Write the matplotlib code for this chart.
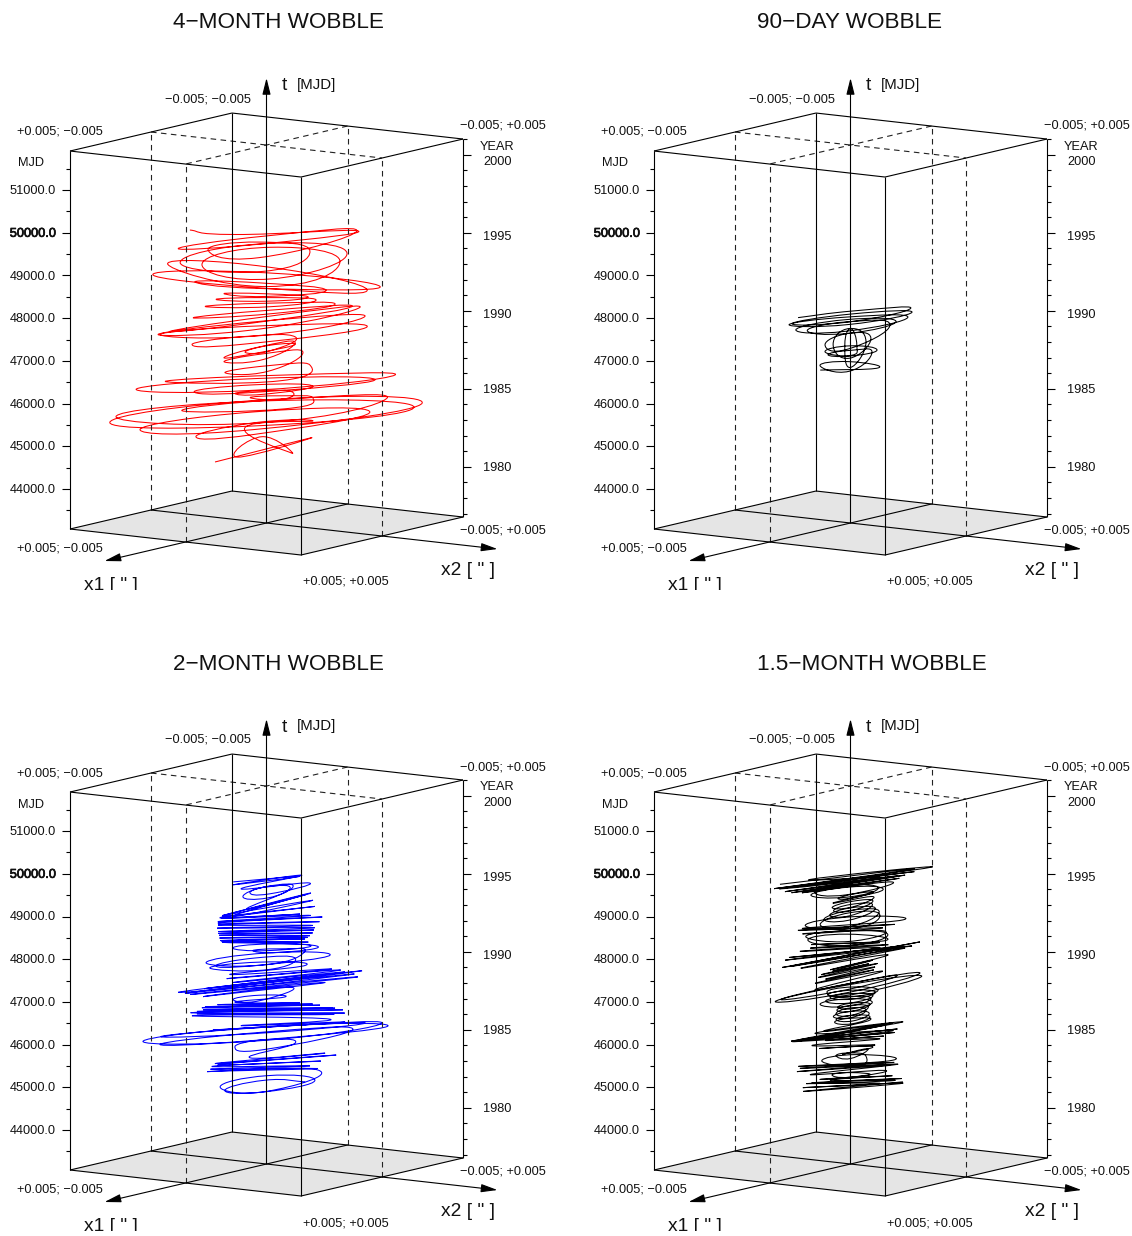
import matplotlib
matplotlib.use("Agg")
import matplotlib.pyplot as plt
import matplotlib.patheffects as pe
from matplotlib.path import Path
from matplotlib.patches import PathPatch, Polygon

plt.rcParams['font.family'] = ['Liberation Sans', 'DejaVu Sans']

W, H = 1132, 1236

# polar-motion components in milliarcseconds (0.001") and epoch in MJD
m4_x1 = [3.52, -2.69, 2.35, -1.69, .74, -2.77,
         -2.35, -.83, 2.83, 1.31,
         -3.67, -1.37, 4.13, 1.83,
         -4.89, -2.30, 4.91, 2.32,
         -3.84, -1.93, 3.90, 1.99,
         -3.57, -1.25, 2.85, .53,
         -.93, -.66, .33, .06,
         -.69, -.30, .81, .42,
         -1.46, -.45, 1.98, .97,
         -3.06, -.85, 3.50, 1.29,
         -3.19, -.80, 2.65, .26,
         -1.58, -.55, 1.54, .51,
         -1.62, -.47, 1.74, .59,
         -1.99, -.39, 2.27, .67,
         -1.28, -.60, 1.14, .46,
         -1.28, -.25, 2.20, 1.17,
         -2.72, -.83, 2.84, .95,
         -3.66, -.61, 3.86, .81,
         -4.10, -.42, 4.16, .48,
         -2.78, -.48, 2.54, .24,
         -1.64, -.43, 1.50, .29,
         -.99, -.35, 1.01, .37,
         -.56, -.27, .58, .27,
         -.48, -.41, .72, .65,
         -1.20, -1.42, 1.20, 1.42,
         .30, -1.80, -.34, 1.76,
         -1.74, -2.94, 1.56, 2.76,
         -2.50, -2.43, 2.62, 2.55,
         -.78, -1.27, 1.08, 1.57,
         -3.41, -.73, 3.37, .69,
         -2.01, 1.16, 1.35]
m4_x2 = [.24, .08, .41, -1.38, 1.63, -2.88,
         .36, -1.10, -1.07, .40,
         1.90, -1.47, -2.58, .79,
         3.31, -1.64, -3.34, 1.62,
         3.69, -1.42, -3.78, 1.34,
         2.72, -.10, -1.67, 1.16,
         1.36, .19, -.48, .69,
         .62, -.34, -.79, .16,
         .98, -.88, -1.74, .12,
         2.55, -1.07, -3.19, .43,
         3.33, .02, -2.53, .78,
         .77, -.35, -.72, .41,
         .44, -.47, -.62, .29,
         -.16, -.59, -.25, .17,
         .34, -.28, -.13, .48,
         .34, -1.17, -1.68, -.17,
         2.44, -.72, -2.62, .54,
         1.70, -.65, -1.99, .35,
         1.18, -.35, -1.27, .27,
         1.76, -.07, -1.40, .43,
         1.82, -.15, -1.61, .35,
         1.45, -.26, -1.48, .24,
         1.41, -.19, -1.44, .19,
         2.24, -.56, -2.59, .20,
         4.08, -1.00, -4.08, 1.00,
         4.57, -1.22, -4.52, 1.28,
         1.96, -1.87, -1.70, 2.13,
         1.73, -1.84, -1.90, 1.66,
         1.33, -1.22, -1.77, .78,
         1.52, -.47, -1.46, .53,
         2.55, -.54, -2.37]
m4_mjd = [44820, 44830, 44840, 44850, 44860, 44870,
          45265, 45270, 45275, 45280,
          45450, 45455, 45460, 45465,
          45640, 45645, 45650, 45655,
          45660, 45665, 45670, 45675,
          45840, 45845, 45850, 45855,
          45990, 45995, 46000, 46005,
          46110, 46115, 46120, 46125,
          46200, 46205, 46210, 46215,
          46300, 46305, 46310, 46315,
          46450, 46455, 46460, 46465,
          46670, 46675, 46680, 46685,
          46950, 46955, 46960, 46965,
          47110, 47115, 47120, 47125,
          47150, 47155, 47160, 47165,
          47330, 47335, 47340, 47345,
          47560, 47565, 47570, 47575,
          47690, 47695, 47700, 47705,
          47830, 47835, 47840, 47845,
          48000, 48005, 48010, 48015,
          48160, 48165, 48170, 48175,
          48290, 48295, 48300, 48305,
          48390, 48395, 48400, 48405,
          48610, 48615, 48620, 48625,
          48730, 48735, 48740, 48745,
          48820, 48825, 48830, 48835,
          49140, 49145, 49150, 49155,
          49270, 49275, 49280, 49285,
          49450, 49455, 49460, 49465,
          49690, 49695, 49700, 49705,
          49880, 49890, 49900]

d90_x1 = [1.14,
          -.37, -.86, .43, .92,
          -.70, -.52, .72, .54,
          -.71, -.90, .69, .88,
          -.66, -3.39, -.42, 3.57,
          -.67, -2.65, .53, 2.69,
          -1.03, -1.37, 1.13, 1.47,
          -1.32, -1.03, 1.40, 1.11,
          -1.71, -.98, 1.89, 1.16,
          -1.86, -.67, 1.94, .75,
          -2.30, -.74, 2.24, .68,
          -2.10, -.44, 1.94]
d90_x2 = [-.51,
          .94, -.67, -1.02, .59,
          .44, -.39, -.47, .37,
          .65, -.62, -.62, .64,
          -.19, -2.37, -.54, 2.49,
          .20, -1.91, -.38, 1.85,
          .16, -1.07, -.31, .93,
          .78, -.81, -.89, .69,
          .77, -.88, -1.04, .62,
          1.18, -.56, -1.30, .44,
          1.05, -.46, -.96, .54,
          1.14, -.13, -.91]
d90_mjd = [46715,
           46720, 46725, 46730, 46735,
           47030, 47035, 47040, 47045,
           47090, 47095, 47100, 47105,
           47160, 47165, 47170, 47175,
           47260, 47265, 47270, 47275,
           47310, 47315, 47320, 47325,
           47630, 47635, 47640, 47645,
           47680, 47685, 47690, 47695,
           47790, 47795, 47800, 47805,
           47860, 47865, 47870, 47875,
           47980, 47985, 47990]

m2_x1 = [-1.57, -1.04, 1.63, 1.10,
         -1.59, -1.44, 1.55, 1.40,
         -1.21, 1.37, -.96, 1.18, -2.19, 1.83, -1.62, .78,
         -.93, -.86, .99, .92,
         -3.15, -.51, 3.55, .91,
         -3.85, -1.23, 3.89, 1.27,
         -3.56, -.63, 3.36, .43,
         -1.93, .87,
         -1.00, 1.22, -1.71, 1.57, -1.55, 1.45, -1.25, 1.41, -.67, .63,
         -.64, -.38, .94, .68,
         -1.36, 2.16, -3.25, 3.19, -3.96, 3.68, -2.55, 1.67, -1.84, 1.26,
         -1.28, -.49, 1.72, .93,
         -1.98, -1.10, 1.92, 1.04,
         -.77, -.61, .27, .11,
         -.65, .71, -.95, 1.11, -.87, .95, -1.13, 1.15, -.93, .97, -1.56, 1.42, -1.03, 1.29,
         -2.94, 2.94, -2.13, 1.73,
         -1.31, -1.09, 1.27, 1.05,
         -.92, -.78, .78, .64,
         -1.60, 1.56, -1.20, 1.20,
         # further windings in the dense bands
         -1.40, 1.30, -1.55, 1.55, -1.30, 1.35, -1.00, 1.10,
         -1.10, 1.25, -1.50, 1.30,
         -.80, .85, -.90, 1.05, -1.00, 1.05, -1.05, 1.05, -1.20, 1.15, -1.30, 1.10, -1.85, 1.85, -2.30, 2.25,
         -2.20, 2.70, -3.00, 2.70, -2.30, 1.60,
         -2.80, 1.60,
         -1.00, -.60, 1.50, .70,
         -1.20, -.70, .80, .60,
         -1.50, 1.00]
m2_x2 = [.57, -.79, -.66, .71,
         .98, -.97, -.92, 1.03,
         1.38, -1.61, 1.21, -1.54, 1.48, -.95, 1.40, -.17,
         .59, -.67, -.67, .59,
         1.53, -.79, -2.12, .21,
         2.56, -.91, -2.62, .85,
         2.50, -.23, -2.21, .53,
         2.05, -.50,
         2.05, -2.37, 2.11, -1.91, 1.88, -1.73, 1.44, -1.67, .98, -.92,
         .35, -.60, -.79, .16,
         .06, -1.23, 1.68, -1.59, 1.36, -.95, 1.61, -.32, 1.54, -.69,
         .34, -.82, -.98, .18,
         1.36, -.71, -1.27, .79,
         1.13, .12, -.40, .62,
         1.35, -1.43, 1.00, -1.23, 1.27, -1.39, 1.26, -1.29, 1.36, -1.42, 1.32, -1.11, .73, -1.11,
         -.14, .14, .22, .37,
         .19, -.72, -.13, .78,
         .38, -.40, -.17, .60,
         .41, -.35, .60, -.60,
         # further windings in the dense bands
         1.95, -2.10, 2.30, -2.20, 1.95, -1.85, 1.30, -1.35,
         1.45, -1.55, 1.30, -1.20,
         1.25, -1.35, 1.15, -1.30, 1.30, -1.35, 1.35, -1.40, 1.45, -1.30, 1.00, -1.20, .80, -.60, .40, .10,
         1.00, -1.40, 1.70, -.80, 1.60, -.60,
         2.20, -1.20,
         1.00, -.70, -1.40, .50,
         1.40, -.30, -.90, .50,
         .80, -.40]
m2_mjd = [44880, 44885, 44890, 44895,
          44940, 44945, 44950, 44955,
          45240, 45250, 45350, 45360, 45510, 45520, 45600, 45610,
          45850, 45855, 45860, 45865,
          46040, 46045, 46050, 46055,
          46110, 46115, 46120, 46125,
          46200, 46205, 46210, 46215,
          46340, 46350,
          46490, 46500, 46650, 46660, 46690, 46700, 46760, 46770, 46840, 46850,
          46940, 46945, 46950, 46955,
          47090, 47100, 47260, 47270, 47320, 47330, 47430, 47440, 47560, 47570,
          47790, 47795, 47800, 47805,
          47860, 47865, 47870, 47875,
          48050, 48055, 48060, 48065,
          48220, 48230, 48310, 48320, 48410, 48420, 48520, 48530, 48650, 48660, 48790, 48800, 48870, 48880,
          49140, 49150, 49200, 49210,
          49420, 49425, 49430, 49435,
          49470, 49475, 49480, 49485,
          49710, 49720, 49730, 49740,
          # further windings in the dense bands
          46560, 46570, 46600, 46610, 46720, 46730, 46800, 46810,
          45290, 45300, 45420, 45430,
          48265, 48275, 48360, 48370, 48465, 48475, 48585, 48595, 48720, 48730, 48830, 48840, 48980, 48990, 49060, 49070,
          47180, 47190, 47350, 47360, 47500, 47510,
          46260, 46270,
          47690, 47695, 47700, 47705,
          48130, 48135, 48140, 48145,
          49560, 49570]

d45_x1 = [-1.94, 1.84, -1.50, 1.40, -.59, .77, -.89, .41,
          -.35, -.45, .37, .45,
          -1.66, 1.78, -1.15, 1.37,
          -.92, -1.20, .66, .94,
          -.31, -.53, .29, .53,
          -.88, .70, -.58, .86, -.77, .69, -1.20, 1.70,
          -1.12, .98, -2.65, 2.61, -2.10, 1.74,
          -.66, -.58, .56, .48,
          -.67, -.71, .65, .71,
          -.66, -.60, .52, .46,
          -.70, -.62, .88, .80,
          -.63, -.55, .59, .51,
          -.73, -.75, .65, .67,
          -3.74, -.67, 3.82, .75,
          -3.79, -.53, 3.79, .53,
          -2.23, 2.05,
          -1.47, 1.63, -1.34, 1.30,
          -2.24, 2.56, -3.70, 3.68, -2.30, 2.30, -.95, 1.37,
          -.71, -1.00, .85, 1.14,
          -.92, 1.32,
          -1.58, -1.14, 1.44, 1.00,
          -1.48, -1.25, 1.50, 1.25,
          -1.07, -.57, .99, .49,
          -.96, -.45, .78, .27,
          -1.00, -.81, 1.16, .97,
          -2.60, 2.82, -.77, .99, -3.59, 3.49, -2.71, 2.83,
          # further windings in the dense bands
          -1.60, 1.30, -1.30, .90, -1.10, 1.20, -1.20, 1.50,
          -.70, .80, -1.60, 2.10, -1.90, 2.30, -1.40, 1.20,
          -.60, -.50, .55, .50,
          -.72, -.60, .70, .55,
          -.60, -.65, .55, .60,
          -.70, -.55, .75, .65,
          -.75, -.60, .70, .60,
          -1.70, 1.90, -1.30, 1.40, -1.60, 1.60, -1.00, 1.10, -2.00, 2.20, -2.80, 2.90,
          -1.05, 1.20, -.80, 1.00,
          -.95, -.90, 1.05, 1.10,
          -1.00, 1.25, -1.30, 1.35,
          -1.20, -1.00, 1.20, 1.00,
          -1.10, -.80, 1.00, .75,
          -1.00, -.60, .90, .55,
          -1.10, .95,
          -1.30, -.90, 1.30, 1.00,
          -1.80, 2.00, -2.30, 2.50,
          -1.90, 2.10, -2.80, 3.00]
d45_x2 = [.91, -.76, 1.23, -1.08, .86, -1.13, 1.30, -.60,
          .51, -.31, -.54, .31,
          .89, -1.07, .91, -1.23,
          1.16, -.56, -.78, .94,
          .45, -.38, -.42, .38,
          .13, .13, .66, -1.07, .73, -.62, .60, -1.33,
          1.06, -.85, .41, -.35, .37, .16,
          .38, -.31, -.23, .45,
          .20, -.50, -.17, .50,
          .38, -.28, -.18, .48,
          .44, -.63, -.70, .37,
          .53, -.35, -.47, .41,
          .68, -.44, -.56, .56,
          .46, -.56, -.58, .44,
          .35, -.38, -.35, .38,
          .36, -.10,
          .03, -.26, .03, .03,
          .57, -1.04, .41, -.38, 1.05, -1.05, .61, -1.23,
          1.04, -.85, -1.25, .65,
          .76, -1.35,
          1.16, -.65, -.95, .85,
          .23, -.88, -.26, .88,
          .22, -.32, -.10, .44,
          .25, -.12, .01, .38,
          .50, -.75, -.73, .51,
          .54, -.86, .73, -1.06, 1.01, -.86, .89, -1.07,
          # further windings in the dense bands
          1.10, -1.00, .90, -.70, .70, -.90, 1.05, -1.20,
          .45, -.80, .80, -1.10, .70, -.80, .60, -.30,
          .40, -.40, -.30, .40,
          .30, -.45, -.25, .40,
          .35, -.35, -.20, .42,
          .40, -.50, -.55, .40,
          .55, -.40, -.50, .50,
          .20, -.20, .10, -.10, .05, -.15, .10, .00, .20, -.60, .40, -.60,
          .90, -.90, .70, -1.00,
          .95, -.70, -1.20, .70,
          .70, -1.20, 1.00, -1.15,
          .40, -.60, -.30, .60,
          .30, -.50, -.20, .50,
          .25, -.40, -.10, .45,
          .20, -.10,
          .50, -.70, -.80, .55,
          .50, -.70, .50, -.80,
          .70, -.90, .80, -.95]
d45_mjd = [44870, 44880, 44900, 44910, 44950, 44960, 45020, 45030,
           45140, 45145, 45150, 45155,
           45310, 45320, 45340, 45350,
           45480, 45485, 45490, 45495,
           45590, 45595, 45600, 45605,
           45690, 45700, 45840, 45850, 45970, 45980, 45990, 46000,
           46150, 46160, 46180, 46190, 46210, 46220,
           46470, 46475, 46480, 46485,
           46620, 46625, 46630, 46635,
           46760, 46765, 46770, 46775,
           46830, 46835, 46840, 46845,
           46980, 46985, 46990, 46995,
           47110, 47115, 47120, 47125,
           47160, 47165, 47170, 47175,
           47220, 47225, 47230, 47235,
           47310, 47320,
           47550, 47560, 47720, 47730,
           47990, 48000, 47960, 47970, 48030, 48040, 48080, 48090,
           48300, 48305, 48310, 48315,
           48560, 48570,
           48710, 48715, 48720, 48725,
           48780, 48785, 48790, 48795,
           49140, 49145, 49150, 49155,
           49340, 49345, 49350, 49355,
           49470, 49475, 49480, 49485,
           49630, 49640, 49740, 49750, 49760, 49770, 49790, 49800,
           # further windings in the dense bands
           44990, 45000, 45070, 45080, 45200, 45210, 45400, 45410,
           45780, 45790, 46050, 46060, 46100, 46110, 46250, 46260,
           46400, 46405, 46410, 46415,
           46550, 46555, 46560, 46565,
           46700, 46705, 46710, 46715,
           46900, 46905, 46910, 46915,
           47050, 47055, 47060, 47065,
           47440, 47450, 47500, 47510, 47620, 47630, 47670, 47680, 47800, 47810, 47900, 47910,
           48160, 48170, 48220, 48230,
           48400, 48405, 48410, 48415,
           48480, 48490, 48620, 48630,
           48880, 48885, 48890, 48895,
           48960, 48965, 48970, 48975,
           49060, 49065, 49070, 49075,
           49240, 49250,
           49420, 49425, 49430, 49435,
           49540, 49550, 49580, 49590,
           49680, 49690, 49710, 49720]

titles = ["4\u2212MONTH WOBBLE", "90\u2212DAY WOBBLE", "2\u2212MONTH WOBBLE", "1.5\u2212MONTH WOBBLE"]
series = [(m4_x1, m4_x2, m4_mjd), (d90_x1, d90_x2, d90_mjd), (m2_x1, m2_x2, m2_mjd), (d45_x1, d45_x2, d45_mjd)]
colors = ["#ff0000", "#000000", "#0000ff", "#000000"]
origins = [(0, 0), (584, 0), (0, 641), (584, 641)]

mjd_major = [44000, 45000, 46000, 47000, 48000, 49000, 50000, 51000]
mjd_minor = [43500, 44500, 45500, 46500, 47500, 48500, 49500, 50500, 51500]
year_major = [1980, 1985, 1990, 1995, 2000]
year_minor = [1977, 1978, 1979, 1981, 1982, 1983, 1984, 1986, 1987, 1988, 1989,
              1991, 1992, 1993, 1994, 1996, 1997, 1998, 1999, 2001]
year_label_shift = [0.5, 0, 3.5, 3, 6.5]

MJD_BOTTOM, MJD_TOP = 43063, 51915
LIM = 5.0  # mas = 0.005"


def proj(x1, x2, mjd):
    u, v = x1 / LIM, x2 / LIM
    return (266.5 - 81 * u + 115.5 * v,
            483 - (mjd - 44000) * 0.0427 + 19 * u + 13 * v)


def year_mjd(y):
    return 51544 + (y - 2000) * 365.25


def smooth_path(pts, k=0.27):
    verts = [pts[0]]
    codes = [Path.MOVETO]
    n = len(pts)
    for i in range(n - 1):
        p0 = pts[max(i - 1, 0)]
        p1 = pts[i]
        p2 = pts[i + 1]
        p3 = pts[min(i + 2, n - 1)]
        verts.append((p1[0] + k * (p2[0] - p0[0]), p1[1] + k * (p2[1] - p0[1])))
        verts.append((p2[0] - k * (p3[0] - p1[0]), p2[1] - k * (p3[1] - p1[1])))
        verts.append(p2)
        codes += [Path.CURVE4, Path.CURVE4, Path.CURVE4]
    return Path(verts, codes)


fig = plt.figure(figsize=(W / 100, H / 100), dpi=100, facecolor="white")
LW = 0.8
SMALL = 9.2

for (ox, oy), title, (sx1, sx2, smjd), col in zip(origins, titles, series, colors):
    ax = fig.add_axes([ox / W, 1 - (oy + 590) / H, 548 / W, 590 / H])
    ax.set_xlim(0, 548)
    ax.set_ylim(590, 0)
    ax.axis("off")

    def seg(a, b, **kw):
        kw.setdefault("color", "black")
        kw.setdefault("lw", LW)
        kw.setdefault("solid_capstyle", "butt")
        pa, pb = proj(*a), proj(*b)
        ax.plot([pa[0], pb[0]], [pa[1], pb[1]], **kw)

    B, T = MJD_BOTTOM, MJD_TOP
    ax.add_patch(Polygon([proj(LIM, -LIM, B), proj(-LIM, -LIM, B), proj(-LIM, LIM, B), proj(LIM, LIM, B)],
                         closed=True, fc="#e5e5e5", ec="none", zorder=0))

    order = sorted(range(len(smjd)), key=lambda i: smjd[i])
    pts = [proj(sx1[i], sx2[i], smjd[i]) for i in order]
    ax.add_patch(PathPatch(smooth_path(pts), fc="none", ec=col, lw=0.75, zorder=2))

    dash = dict(ls=(0, (5, 4)), lw=LW, zorder=3, color="#222222")
    for a, b in [(0, -LIM), (0, LIM), (LIM, 0), (-LIM, 0)]:
        seg((a, b, B), (a, b, T), **dash)
    seg((0, -LIM, T), (0, LIM, T), **dash)
    seg((-LIM, 0, T), (LIM, 0, T), **dash)

    corners = [(LIM, -LIM), (-LIM, -LIM), (-LIM, LIM), (LIM, LIM), (LIM, -LIM)]
    for c0, c1 in zip(corners[:-1], corners[1:]):
        seg((c0[0], c0[1], T), (c1[0], c1[1], T), zorder=4)
        seg((c0[0], c0[1], B), (c1[0], c1[1], B), zorder=4)
    for c in corners[:-1]:
        seg((c[0], c[1], B), (c[0], c[1], T), zorder=4)

    arrow = dict(arrowstyle="-|>,head_length=1.0,head_width=0.25", mutation_scale=10,
                 lw=LW, color="black", shrinkA=0, shrinkB=0)
    ax.annotate("", xy=proj(2 * LIM, 0, B), xytext=proj(-LIM, 0, B), arrowprops=arrow, zorder=5)
    ax.annotate("", xy=proj(0, 2 * LIM, B), xytext=proj(0, -LIM, B), arrowprops=arrow, zorder=5)
    ax.annotate("", xy=(266.5, 78), xytext=proj(0, 0, B), arrowprops=arrow, zorder=5)

    # left MJD axis
    for m in mjd_major:
        xp, yp = proj(LIM, -LIM, m)
        ax.plot([xp - 8, xp], [yp, yp], color="black", lw=LW, solid_capstyle="butt")
        t = ax.text(56, yp + 1, f"{m:.1f}", ha="right", va="center", fontsize=SMALL, color="#111111")
        if m == 50000:
            t.set_path_effects([pe.withStroke(linewidth=0.5, foreground="black")])
    for m in mjd_minor:
        xp, yp = proj(LIM, -LIM, m)
        ax.plot([xp - 4, xp], [yp, yp], color="black", lw=LW, solid_capstyle="butt")

    # right year axis
    for y, shift in zip(year_major, year_label_shift):
        xp, yp = proj(-LIM, LIM, year_mjd(y))
        ax.plot([xp, xp + 8], [yp, yp], color="black", lw=LW, solid_capstyle="butt")
        ax.text(483, yp + shift + 1, str(y), ha="left", va="center", fontsize=SMALL, color="#111111")
    for y in year_minor:
        xp, yp = proj(-LIM, LIM, year_mjd(y))
        ax.plot([xp, xp + 4], [yp, yp], color="black", lw=LW, solid_capstyle="butt")

    small = dict(fontsize=SMALL, va="center", ha="left", color="#111111")
    ax.text(17, 132, "+0.005; \u22120.005", **small)
    ax.text(165, 99, "\u22120.005; \u22120.005", **small)
    ax.text(460, 126, "\u22120.005; +0.005", **small)
    ax.text(460, 531, "\u22120.005; +0.005", **small)
    ax.text(17, 549, "+0.005; \u22120.005", **small)
    ax.text(303, 582, "+0.005; +0.005", **small)
    ax.text(18, 163.5, "MJD", **small)
    ax.text(480, 146.5, "YEAR", **small)

    big = dict(fontsize=13.8, va="center", ha="left", color="#111111")
    ax.text(441, 570.5, "x2 [ \" ]", **big)
    ax.text(84, 585.5, "x1 [ \" ]", clip_on=True, **big)
    ax.text(282, 86, "t", **big)
    ax.text(297, 85, "[MJD]", fontsize=10.8, va="center", ha="left", color="#111111")
    ax.text(173, 22 + (1 if oy else 0), title, fontsize=16.2, va="center", ha="left", color="#111111")

fig.savefig("out.png", dpi=100, facecolor="white")
